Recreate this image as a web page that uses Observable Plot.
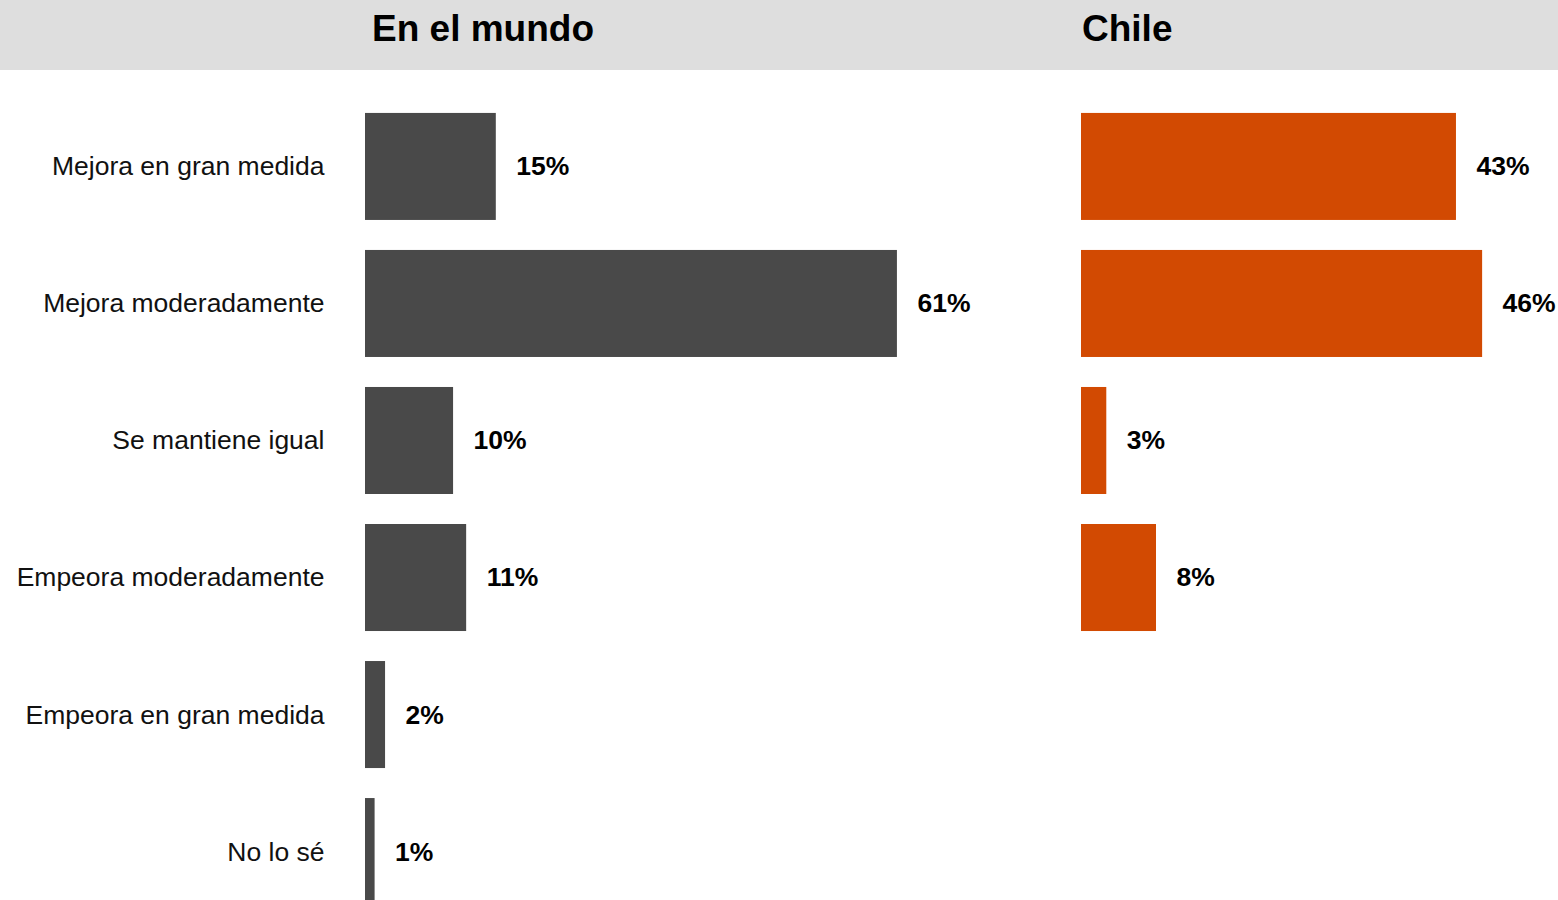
<!DOCTYPE html>
<html>
<head>
<meta charset="utf-8">
<script src="https://cdn.jsdelivr.net/npm/d3@7"></script>
<script src="https://cdn.jsdelivr.net/npm/@observablehq/plot@0.6"></script>
<style>
  html, body { margin: 0; padding: 0; background: #fff; overflow: hidden; }
  #wrap { position: relative; width: 1558px; height: 900px; overflow: hidden; font-family: "Liberation Sans", Arial, Helvetica, sans-serif; }
  #band { position: absolute; left: 0; top: 0; width: 1558px; height: 70px; background: #dedede; }
  .title { position: absolute; top: 7px; font-size: 37px; font-weight: bold; color: #000; line-height: 44px; }
  .chart { position: absolute; left: 0; top: 70px; }
</style>
</head>
<body>
<div id="wrap">
  <div id="band"></div>
  <div class="title" id="t1" style="left:372px"></div>
  <div class="title" id="t2" style="left:1082px"></div>
  <div class="chart" id="c1"></div>
  <div class="chart" id="c2"></div>
</div>
<script>
const panelTitles = ["En el mundo", "Chile"];
const categories = ["Mejora en gran medida", "Mejora moderadamente", "Se mantiene igual", "Empeora moderadamente", "Empeora en gran medida", "No lo sé"];
const mundoValues = [15.0, 61.0, 10.1, 11.6, 2.3, 1.1];
const mundoLabels = ["15%", "61%", "10%", "11%", "2%", "1%"];
const chileCategories = ["Mejora en gran medida", "Mejora moderadamente", "Se mantiene igual", "Empeora moderadamente"];
const chileValues = [43.0, 46.0, 2.9, 8.6];
const chileLabels = ["43%", "46%", "3%", "8%"];

document.getElementById("t1").textContent = panelTitles[0];
document.getElementById("t2").textContent = panelTitles[1];

const mundo = categories.map((c, i) => ({cat: c, v: mundoValues[i], label: mundoLabels[i]}));
const chile = chileCategories.map((c, i) => ({cat: c, v: chileValues[i], label: chileLabels[i]}));

const pxPerPct = 8.72;
const W = 1558, H = 851;
const font = "Liberation Sans, Arial, Helvetica, sans-serif";

function panel(data, left, color, showAxis) {
  return Plot.plot({
    width: W, height: H,
    marginLeft: left, marginRight: 0, marginTop: 28, marginBottom: 1,
    style: {fontFamily: font, background: "transparent", overflow: "visible"},
    x: {domain: [0, (W - left) / pxPerPct], axis: null},
    y: {domain: categories, paddingInner: 0.219, paddingOuter: 0.109, round: false, axis: null},
    marks: [
      showAxis ? Plot.axisY({tickSize: 0, tickPadding: 41, fontSize: 26.5, fill: "#111", label: null}) : null,
      Plot.barX(data, {x: "v", y: "cat", fill: color}),
      Plot.text(data, {x: "v", y: "cat", text: "label", textAnchor: "start", dx: 20, fontSize: 26.5, fontWeight: "bold", fill: "#000"})
    ]
  });
}

document.getElementById("c1").append(panel(mundo, 365, "#494949", true));
document.getElementById("c2").append(panel(chile, 1081, "#d24a02", false));
</script>
</body>
</html>
